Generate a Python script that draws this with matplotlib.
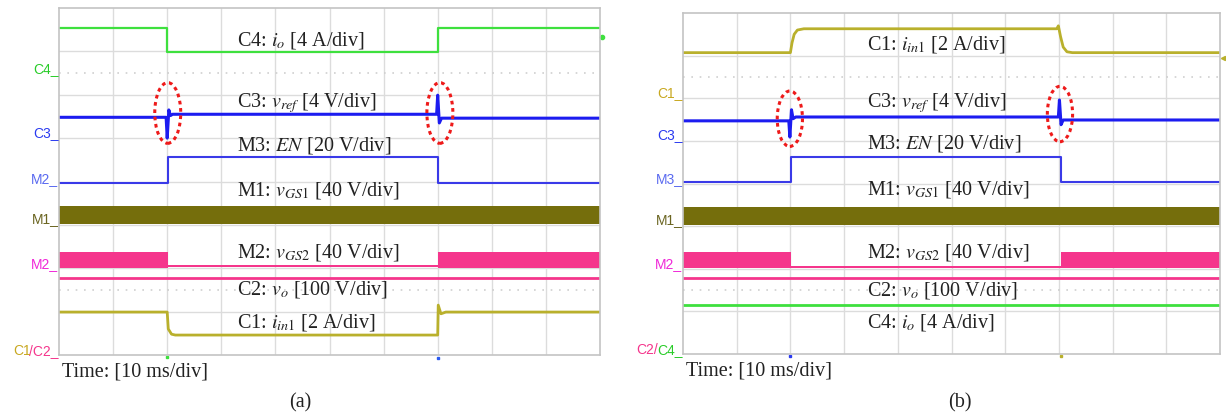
import matplotlib
matplotlib.use('Agg')
import matplotlib.pyplot as plt
from matplotlib.patches import Ellipse
import matplotlib.transforms as mtransforms

plt.rcParams['font.family'] = ['Liberation Serif', 'DejaVu Serif']
plt.rcParams['mathtext.fontset'] = 'stix'

# tiempo en ms (10 ms/div), niveles en divisiones (0 abajo, 8 arriba)

# ---------- captura (a) ----------
a_c4_t = [0, 20, 20, 70, 70, 100]
a_c4_v = [7.55, 7.55, 6.98, 6.98, 7.55, 7.55]
a_c3_t = [0, 19.8, 20.0, 20.3, 20.6, 21, 69.8, 70.0, 70.3, 70.7, 71.5, 100]
a_c3_v = [5.48, 5.48, 5.0, 5.65, 5.52, 5.55, 5.55, 5.99, 5.35, 5.46, 5.46, 5.46]
a_en_t = [0, 20.2, 20.2, 70, 70, 100]
a_en_v = [3.96, 3.96, 4.56, 4.56, 3.96, 3.96]
a_m1_t = [0, 100]
a_m1_lo = [3.02, 3.02]
a_m1_hi = [3.43, 3.43]
a_m2_t = [0, 20.2, 20.2, 70, 70, 100]
a_m2_lo = [2.00, 2.00, 2.03, 2.03, 2.00, 2.00]
a_m2_hi = [2.37, 2.37, 2.07, 2.07, 2.37, 2.37]
a_c2_t = [0, 100]
a_c2_v = [1.77, 1.77]
a_c1_t = [0, 20, 20.2, 20.8, 21.5, 70, 70.1, 70.6, 71.5, 100]
a_c1_v = [0.99, 0.99, 0.6, 0.48, 0.46, 0.46, 1.15, 0.95, 0.99, 0.99]
a_rings = [(20.1, 5.58), (70.4, 5.58)]
a_ground = [('C4', 6.5), ('C3', 5.02), ('M2', 3.96), ('M1', 3.04), ('M2', 2.0)]
a_labels = [
    (r'C4: $i_o$ [4 A/div]', 7.26),
    (r'C3: $v_{ref}$ [4 V/div]', 5.81),
    (r'M3: $EN$ [20 V/div]', 4.82),
    (r'M1: $v_{GS\mathrm{1}}$ [40 V/div]', 3.80),
    (r'M2: $v_{GS\mathrm{2}}$ [40 V/div]', 2.37),
    (r'C2: $v_o$ [100 V/div]', 1.50),
    (r'C1: $i_{in\mathrm{1}}$ [2 A/div]', 0.76),
]

# ---------- captura (b) ----------
b_c1_t = [0, 20, 20.3, 20.7, 21.3, 22.5, 69.6, 69.9, 70.3, 70.8, 71.5, 72.5, 100]
b_c1_v = [7.07, 7.07, 7.3, 7.5, 7.6, 7.63, 7.63, 7.70, 7.45, 7.2, 7.09, 7.07, 7.07]
b_c3_t = [0, 19.7, 19.9, 20.2, 20.5, 21, 69.9, 70.1, 70.4, 70.8, 71.5, 100]
b_c3_v = [5.47, 5.47, 5.09, 5.73, 5.52, 5.56, 5.56, 5.96, 5.38, 5.49, 5.49, 5.49]
b_en_t = [0, 20.2, 20.2, 70.3, 70.3, 100]
b_en_v = [4.04, 4.04, 4.62, 4.62, 4.04, 4.04]
b_m1_t = [0, 100]
b_m1_lo = [3.03, 3.03]
b_m1_hi = [3.45, 3.45]
b_m2_t = [0, 20.2, 20.2, 70.3, 70.3, 100]
b_m2_lo = [2.02, 2.02, 2.02, 2.02, 2.02, 2.02]
b_m2_hi = [2.39, 2.39, 2.07, 2.07, 2.39, 2.39]
b_c2_t = [0, 100]
b_c2_v = [1.78, 1.78]
b_c4_t = [0, 100]
b_c4_v = [1.15, 1.15]
b_rings = [(19.9, 5.52), (70.2, 5.63)]
b_ground = [('C1', 6.03), ('C3', 5.05), ('M3', 4.01), ('M1', 3.05), ('M2', 2.02)]
b_labels = [
    (r'C1: $i_{in\mathrm{1}}$ [2 A/div]', 7.25),
    (r'C3: $v_{ref}$ [4 V/div]', 5.89),
    (r'M3: $EN$ [20 V/div]', 4.95),
    (r'M1: $v_{GS\mathrm{1}}$ [40 V/div]', 3.85),
    (r'M2: $v_{GS\mathrm{2}}$ [40 V/div]', 2.37),
    (r'C2: $v_o$ [100 V/div]', 1.48),
    (r'C4: $i_o$ [4 A/div]', 0.75),
]

VERDE = '#3ee03e'
AZUL = '#1c1cf0'
AZUL_EN = '#3a3ae8'
OLIVA = '#756e0c'
ROSA = '#f5358c'
ORO = '#b9b02c'
colores_tierra = {'C4': '#28cc28', 'C3': '#2a3af0', 'M2': '#5a6af0', 'M3': '#5a6af0',
                  'M1': '#6a6420', 'C1': '#c8a820'}


def rejilla(ax):
    '''
    Dibuja la rejilla del osciloscopio
    '''
    ax.set_xlim(0, 100)
    ax.set_ylim(0, 8)
    for x in range(10, 100, 10):
        ax.axvline(x, color='#dcdcdc', lw=1, zorder=0)
    for y in range(1, 8):
        ax.axhline(y, color='#dcdcdc', lw=1, zorder=0)
    for y in (1.5, 6.5):
        ax.axhline(y, color='#cfcfcf', lw=1.2, ls=(0, (1, 4)), zorder=0)
    ax.set_xticks([])
    ax.set_yticks([])
    for s in ax.spines.values():
        s.set_color('#c4c4c4')
        s.set_linewidth(1.2)


def etiquetas(ax, ground, labels, x_text):
    trans = mtransforms.blended_transform_factory(ax.transAxes, ax.transData)
    for nombre, y in ground:
        col = colores_tierra[nombre]
        if nombre == 'M2' and y < 2.5:
            col = '#f028d8'
        ax.text(-0.001, y, nombre + '_', color=col, transform=trans, ha='right',
                va='baseline', fontsize=10, family='Liberation Sans')
    for txt, y in labels:
        ax.text(x_text, y, txt, fontsize=14.5, va='center', ha='left', color='#222222')
    ax.text(0.6, -0.4, 'Time: [10 ms/div]', fontsize=14.5, va='center', ha='left',
            color='#222222', clip_on=False)


def anillos(ax, rings, w, h):
    for cx, cy in rings:
        ax.add_patch(Ellipse((cx, cy), w, h, fill=False, ec='#ee1a1a', lw=2.2,
                             ls=(0, (1.2, 1.2)), zorder=5))


def etiqueta_doble(fig, ax, izq, col_izq, der, col_der):
    trans = mtransforms.blended_transform_factory(ax.transAxes, ax.transData)
    t2 = ax.text(-0.001, 0.0, der, color=col_der, transform=trans, ha='right',
                 va='baseline', fontsize=10, family='Liberation Sans')
    fig.canvas.draw()
    bb = t2.get_window_extent()
    x_ax = ax.transAxes.inverted().transform((bb.x0 + 1.5, bb.y0))[0]
    ax.text(x_ax, 0.0, izq, color=col_izq, transform=trans, ha='right',
            va='baseline', fontsize=10, family='Liberation Sans')


fig = plt.figure(figsize=(12.26, 4.16), dpi=100)
axa = fig.add_axes([59 / 1226, 1 - 355 / 416, 541 / 1226, 347 / 416])
axb = fig.add_axes([683 / 1226, 1 - 354 / 416, 537 / 1226, 341 / 416])

# (a)
rejilla(axa)
axa.plot(a_c4_t, a_c4_v, color=VERDE, lw=1.6)
axa.plot(a_c3_t, a_c3_v, color=AZUL, lw=2.2)
axa.plot(a_en_t, a_en_v, color=AZUL_EN, lw=1.5)
axa.fill_between(a_m1_t, a_m1_lo, a_m1_hi, color=OLIVA, lw=0)
axa.fill_between(a_m2_t, a_m2_lo, a_m2_hi, color=ROSA, lw=0)
axa.plot(a_c2_t, a_c2_v, color=ROSA, lw=2)
axa.plot(a_c1_t, a_c1_v, color=ORO, lw=2)
anillos(axa, a_rings, 4.8, 1.4)
etiquetas(axa, a_ground, a_labels, 32.9)
axa.plot([100.4], [7.33], 'o', color=VERDE, ms=3, clip_on=False)
axa.plot([20], [-0.05], 's', color=VERDE, ms=2, clip_on=False)
axa.plot([70], [-0.07], 's', color='#2a5af0', ms=2, clip_on=False)

# (b)
rejilla(axb)
axb.plot(b_c1_t, b_c1_v, color=ORO, lw=2)
axb.plot(b_c3_t, b_c3_v, color=AZUL, lw=2.2)
axb.plot(b_en_t, b_en_v, color=AZUL_EN, lw=1.5)
axb.fill_between(b_m1_t, b_m1_lo, b_m1_hi, color=OLIVA, lw=0)
axb.fill_between(b_m2_t, b_m2_lo, b_m2_hi, color=ROSA, lw=0)
axb.plot(b_c2_t, b_c2_v, color=ROSA, lw=2)
axb.plot(b_c4_t, b_c4_v, color=VERDE, lw=2)
anillos(axb, b_rings, 4.7, 1.3)
etiquetas(axb, b_ground, b_labels, 34.3)
axb.plot([100.5], [6.95], '<', color=ORO, ms=3, clip_on=False)
axb.plot([20], [-0.05], 's', color='#2a3af0', ms=2, clip_on=False)
axb.plot([70.3], [-0.05], 's', color=ORO, ms=2, clip_on=False)

etiqueta_doble(fig, axa, 'C1', '#c8a820', '/C2_', ROSA)
etiqueta_doble(fig, axb, 'C2/', ROSA, 'C4_', '#28cc28')

fig.text(300 / 1226, 1 - 403 / 416, '(a)', fontsize=14.5, ha='center', va='center', color='#222222')
fig.text(960 / 1226, 1 - 403 / 416, '(b)', fontsize=14.5, ha='center', va='center', color='#222222')

fig.savefig('out.png', dpi=100)
